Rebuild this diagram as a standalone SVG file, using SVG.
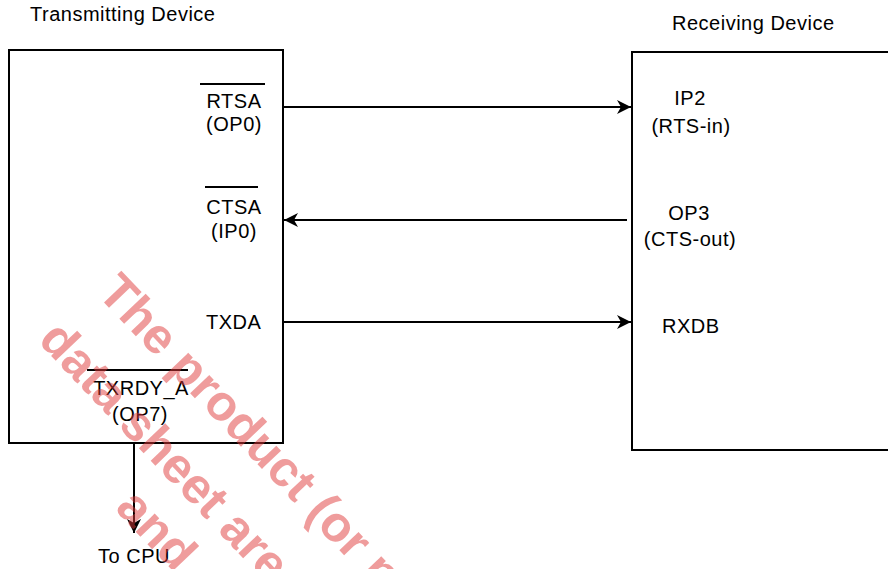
<svg xmlns="http://www.w3.org/2000/svg" width="888" height="569" viewBox="0 0 888 569">
<style>
text{font-family:"Liberation Sans",Arial,sans-serif;font-size:20px;letter-spacing:0.5px;fill:#000}
.m{text-anchor:middle}
.box{fill:none;stroke:#000;stroke-width:2}
.ln{stroke:#000;stroke-width:2;fill:none}
.ol{stroke:#000;stroke-width:2}
.wm{font-family:"Liberation Sans",Arial,sans-serif;font-weight:bold;font-size:50px;letter-spacing:0;fill:#e03a3a;fill-opacity:0.5}
</style>
<defs>
<marker id="ah" markerUnits="userSpaceOnUse" markerWidth="16" markerHeight="16" refX="14" refY="8" orient="auto">
<path d="M0,1 L14,8 L0,15 L4,8 Z" fill="#000"/>
</marker>
</defs>
<g id="tx">
<rect class="box" x="9" y="50" width="274" height="393"/>
<text x="30" y="21">Transmitting Device</text>
<line class="ol" x1="200" y1="84" x2="265" y2="84"/>
<text class="m" x="234" y="108">RTSA</text>
<text class="m" x="234" y="131">(OP0)</text>
<line class="ol" x1="205" y1="187" x2="258" y2="187"/>
<text class="m" x="234" y="214">CTSA</text>
<text class="m" x="234" y="238">(IP0)</text>
<text x="206" y="329">TXDA</text>
<line class="ol" x1="87" y1="370" x2="188" y2="370"/>
<text class="m" x="141" y="395">TXRDY_A</text>
<text class="m" x="140" y="421">(OP7)</text>
</g>
<g id="rx">
<rect class="box" x="632" y="52" width="270" height="398"/>
<text x="672" y="30">Receiving Device</text>
<text class="m" x="690" y="105">IP2</text>
<text class="m" x="691" y="133">(RTS-in)</text>
<text class="m" x="689" y="220">OP3</text>
<text class="m" x="690" y="246">(CTS-out)</text>
<text x="662" y="333">RXDB</text>
</g>
<g id="cpu">
<text class="m" x="134" y="563">To CPU</text>
</g>
<g id="connectors">
<line class="ln" x1="283" y1="107" x2="631" y2="107" marker-end="url(#ah)"/>
<line class="ln" x1="627" y1="220" x2="284" y2="220" marker-end="url(#ah)"/>
<line class="ln" x1="283" y1="322" x2="631" y2="322" marker-end="url(#ah)"/>
<line class="ln" x1="134" y1="443" x2="134" y2="533" marker-end="url(#ah)"/>
</g>
<g id="watermark">
<text class="wm" transform="translate(96,294) rotate(46.5)">The product (or p</text>
<text class="wm" transform="translate(37,341) rotate(46.5)">data sheet are</text>
<text class="wm" transform="translate(114,509) rotate(46.5)">and</text>
</g>
</svg>
